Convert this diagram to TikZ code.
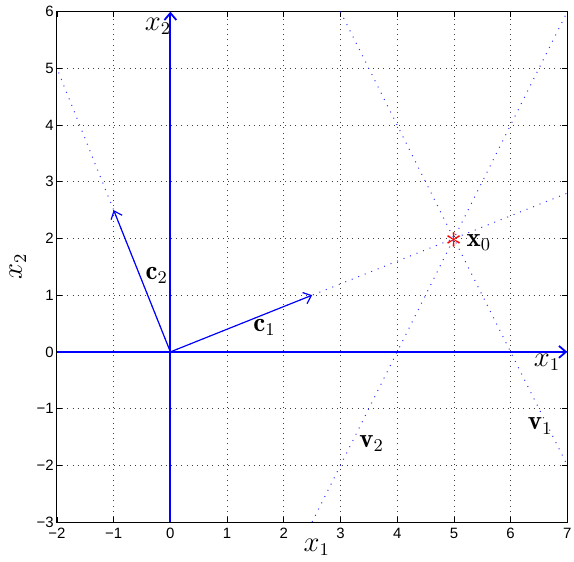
\documentclass[tikz,border=0pt]{standalone}
\usepackage{amsmath, amssymb}
\usepackage{fontspec}
\newfontfamily\tickfont{Liberation Sans}
\usetikzlibrary{arrows.meta}

\tikzset{
  gridline/.style = {black!75, line width=.4pt, dash pattern=on .4pt off 2.2pt},
  guide/.style = {blue!80, line width=.5pt, dash pattern=on .5pt off 3pt},
  vec/.style = {blue, line width=.6pt, -{Straight Barb[length=3.5pt, width=6pt]}},
  axisline/.style = {vec, line width=.9pt},
  ticklab/.style = {font=\tickfont\fontsize{7.5}{8}\selectfont, inner sep=1.5pt},
  lab/.style = {font=\fontsize{13.5}{15}\selectfont, inner sep=0pt}
}

\begin{document}
\begin{tikzpicture}
      \useasboundingbox (-3.005, -3.692) rectangle (7.118, 6.206);
      % grid and frame
      \foreach \x in {-1, 1, 2, 3, 4, 5, 6}
        \draw[gridline] (\x, -3) -- (\x, 6);
      \foreach \y in {-2, -1, 1, 2, 3, 4, 5}
        \draw[gridline] (-2, \y) -- (7, \y);
      \draw[line width=.5pt] (-2, -3) rectangle (7, 6);
      \foreach \x/\lbl in {-2/−2, -1/−1, 0/0, 1/1, 2/2, 3/3, 4/4, 5/5, 6/6, 7/7} {
        \draw[line width=.4pt] (\x, -3) -- ++(0, .09);
        \draw[line width=.4pt] (\x, 6) -- ++(0, -.09);
        \node[ticklab, below, yshift=-1.5pt] at (\x, -3) {\lbl};
      }
      \foreach \y/\lbl in {-3/−3, -2/−2, -1/−1, 0/0, 1/1, 2/2, 3/3, 4/4, 5/5, 6/6} {
        \draw[line width=.4pt] (-2, \y) -- ++(.09, 0);
        \draw[line width=.4pt] (7, \y) -- ++(-.09, 0);
        \node[ticklab, left] at (-2, \y) {\lbl};
      }
      \node[lab] (xlabel) at (2.58, -3.45) {$x_1$};
      \node[lab, rotate=90] (ylabel) at (-2.69, 1.5) {$x_2$};

      % points
      \coordinate (O) at (0, 0);
      \coordinate (c1) at (2.5, 1);
      \coordinate (c2) at (-1, 2.5);
      \coordinate (x0) at (5, 2);
      \coordinate (xl) at (-2, 0);
      \coordinate (xr) at (7, 0);
      \coordinate (yb) at (0, -3);
      \coordinate (yt) at (0, 6);

      % guide lines
      \draw[guide] (O) -- (7, 2.8);
      \draw[guide] (O) -- (-2, 5);
      \draw[guide] (3, 6) -- (7, -2);
      \draw[guide] (2.5, -3) -- (7, 6);

      % axes and vectors
      \draw[axisline] (xl) -- (xr);
      \draw[axisline] (yb) -- (yt);
      \draw[vec] (O) -- (c1);
      \draw[vec] (O) -- (c2);
      \node[red, inner sep=0pt, font=\fontsize{17}{18}\selectfont] (star) at ([yshift=-1pt]x0) {$\ast$};

      % labels
      \node[lab] (x1lab) at (6.64, -.18) {$x_1$};
      \node[lab] (x2lab) at (-.22, 5.74) {$x_2$};
      \node[lab] (c1lab) at (1.66, .43) {$\mathbf{c}_1$};
      \node[lab] (c2lab) at (-.24, 1.35) {$\mathbf{c}_2$};
      \node[lab] (x0lab) at (5.44, 1.93) {$\mathbf{x}_0$};
      \node[lab] (v1lab) at (6.52, -1.31) {$\mathbf{v}_1$};
      \node[lab] (v2lab) at (3.55, -1.62) {$\mathbf{v}_2$};
\end{tikzpicture}
\end{document}
